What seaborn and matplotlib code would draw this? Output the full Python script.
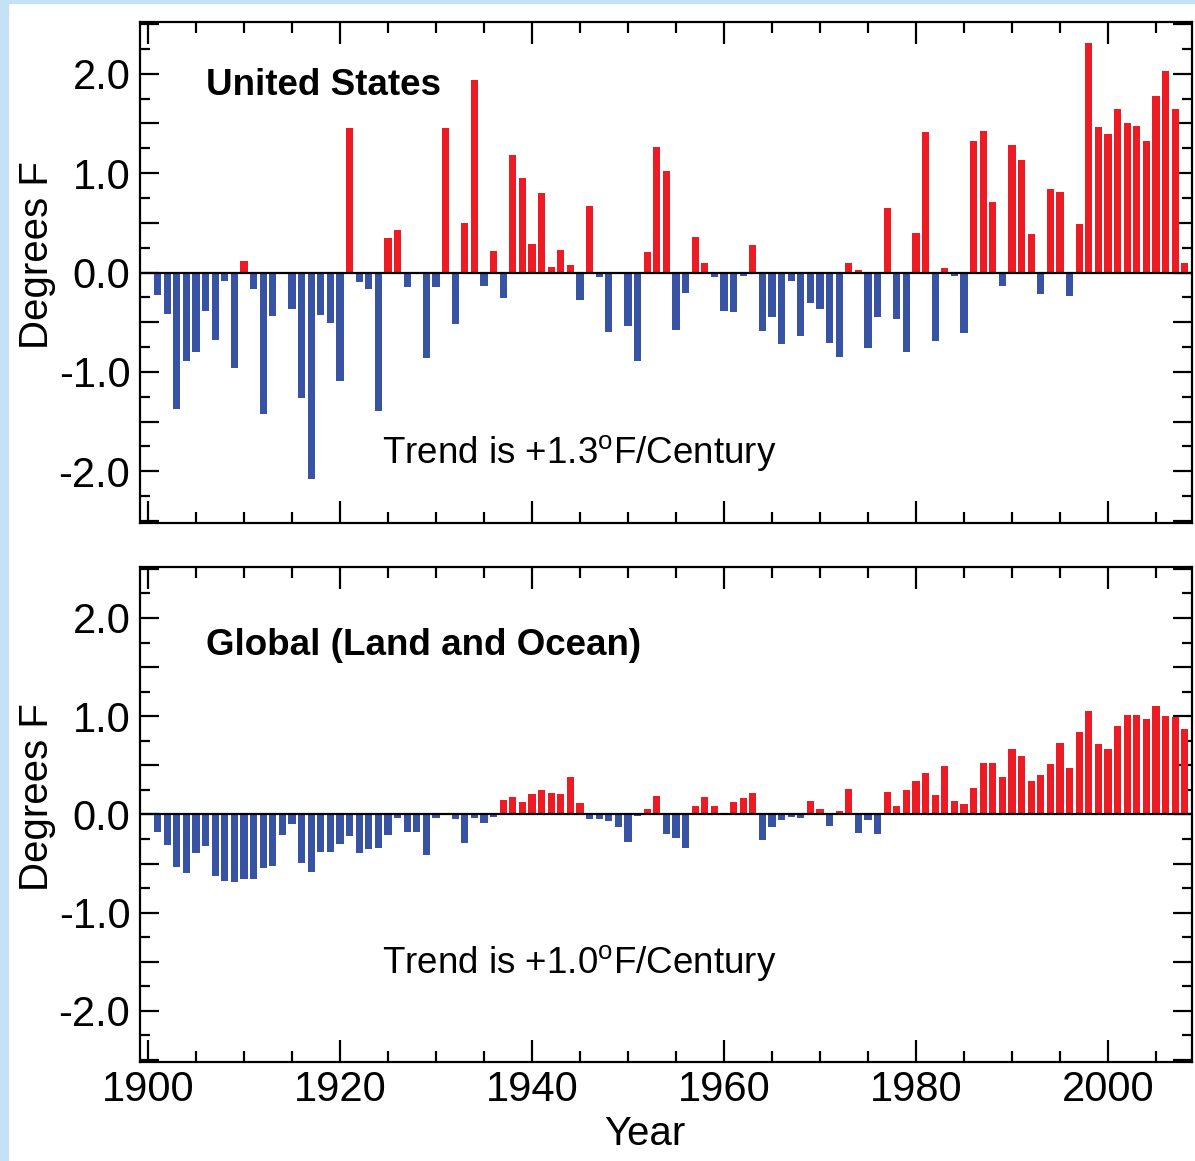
import numpy as np
import pandas as pd
import matplotlib
matplotlib.use('Agg')
import matplotlib.pyplot as plt
from matplotlib.patches import Rectangle
from matplotlib.ticker import MultipleLocator, FuncFormatter
import seaborn as sns

# Annual temperature anomalies (deg F), 1901-2008
years = list(range(1901, 2009))

us_anomaly = [
    -0.23, -0.42, -1.37, -0.89, -0.80, -0.39, -0.68, -0.09, -0.96, 0.12,   # 1901-1910
    -0.17, -1.42, -0.44, -0.01, -0.37, -1.26, -2.08, -0.43, -0.51, -1.09,  # 1911-1920
    1.45, -0.10, -0.17, -1.39, 0.35, 0.43, -0.15, 0.01, -0.86, -0.15,      # 1921-1930
    1.45, -0.52, 0.50, 1.94, -0.14, 0.22, -0.26, 1.18, 0.95, 0.29,         # 1931-1940
    0.80, 0.06, 0.23, 0.08, -0.28, 0.67, -0.04, -0.60, -0.01, -0.54,       # 1941-1950
    -0.89, 0.21, 1.26, 1.02, -0.58, -0.21, 0.36, 0.10, -0.04, -0.39,       # 1951-1960
    -0.40, -0.03, 0.28, -0.59, -0.45, -0.72, -0.09, -0.64, -0.31, -0.37,   # 1961-1970
    -0.71, -0.85, 0.10, 0.03, -0.76, -0.45, 0.65, -0.47, -0.80, 0.40,      # 1971-1980
    1.41, -0.69, 0.05, -0.03, -0.61, 1.32, 1.42, 0.71, -0.14, 1.28,        # 1981-1990
    1.13, 0.39, -0.22, 0.84, 0.81, -0.24, 0.49, 2.31, 1.46, 1.39,          # 1991-2000
    1.65, 1.50, 1.47, 1.32, 1.78, 2.03, 1.65, 0.10,                        # 2001-2008
]

global_anomaly = [
    -0.18, -0.31, -0.53, -0.60, -0.39, -0.32, -0.63, -0.68, -0.69, -0.66,  # 1901-1910
    -0.66, -0.55, -0.52, -0.21, -0.10, -0.49, -0.59, -0.38, -0.38, -0.30,  # 1911-1920
    -0.22, -0.39, -0.35, -0.34, -0.21, -0.04, -0.18, -0.18, -0.41, -0.04,  # 1921-1930
    -0.01, -0.05, -0.29, -0.04, -0.09, -0.03, 0.15, 0.18, 0.13, 0.21,      # 1931-1940
    0.25, 0.22, 0.21, 0.38, 0.12, -0.05, -0.05, -0.07, -0.13, -0.28,       # 1941-1950
    -0.02, 0.06, 0.19, -0.20, -0.24, -0.34, 0.09, 0.18, 0.09, 0.00,        # 1951-1960
    0.13, 0.17, 0.22, -0.26, -0.13, -0.06, -0.03, -0.04, 0.14, 0.06,       # 1961-1970
    -0.12, 0.03, 0.26, -0.19, -0.06, -0.20, 0.23, 0.09, 0.25, 0.34,        # 1971-1980
    0.42, 0.20, 0.49, 0.14, 0.11, 0.27, 0.52, 0.52, 0.38, 0.67,            # 1981-1990
    0.59, 0.34, 0.40, 0.51, 0.73, 0.47, 0.84, 1.05, 0.72, 0.67,            # 1991-2000
    0.90, 1.01, 1.01, 0.97, 1.10, 1.00, 0.99, 0.87,                        # 2001-2008
]

panel_titles = ['United States', 'Global (Land and Ocean)']
trend_labels = ['Trend is +1.3$^{\\mathrm{o}}$F/Century',
                'Trend is +1.0$^{\\mathrm{o}}$F/Century']

RED = '#ED1C24'
BLUE = '#3953A4'

sns.set_style('white')
plt.rcParams['font.family'] = ['Liberation Sans', 'DejaVu Sans']
plt.rcParams['mathtext.fontset'] = 'custom'
plt.rcParams['mathtext.rm'] = 'Liberation Sans'
plt.rcParams['axes.linewidth'] = 1.6
plt.rcParams['text.color'] = 'black'
plt.rcParams['axes.labelcolor'] = 'black'
plt.rcParams['xtick.color'] = 'black'
plt.rcParams['ytick.color'] = 'black'
plt.rcParams['axes.edgecolor'] = 'black'

fig = plt.figure(figsize=(11.95, 11.61), dpi=100)
# light blue slide edge on the left and top
fig.patches.append(Rectangle((0, 0), 8 / 1195, 1, transform=fig.transFigure,
                             color='#c4e2f3', zorder=-1))
fig.patches.append(Rectangle((0, 1 - 3 / 1161), 1, 3 / 1161, transform=fig.transFigure,
                             color='#c4e2f3', zorder=-1))

ax_top = fig.add_axes([0.1172, 0.5495, 0.8803, 0.4315])
ax_bot = fig.add_axes([0.1172, 0.0853, 0.8803, 0.4264])


def ylab(v, pos):
    if abs(v - round(v)) < 1e-6:
        return f'{v:.1f}'
    return ''


def draw_panel(ax, values, title, trend, title_y, trend_y):
    df = pd.DataFrame({'year': years, 'anomaly': values})
    df['sign'] = np.where(df['anomaly'] >= 0, 'warm', 'cool')
    sns.barplot(data=df, x='year', y='anomaly', hue='sign',
                palette={'warm': RED, 'cool': BLUE}, native_scale=True,
                dodge=False, width=0.75, errorbar=None, legend=False,
                saturation=1, linewidth=0, ax=ax)
    ax.axhline(0, color='black', lw=1.6, zorder=3)

    ax.set_xlim(1899.17, 2008.75)
    ax.set_ylim(-2.52, 2.52)

    ax.xaxis.set_major_locator(MultipleLocator(20))
    ax.xaxis.set_minor_locator(MultipleLocator(5))
    ax.yaxis.set_major_locator(MultipleLocator(0.5))
    ax.yaxis.set_minor_locator(MultipleLocator(0.25))
    ax.yaxis.set_major_formatter(FuncFormatter(ylab))

    ax.tick_params(axis='x', which='major', direction='in', length=16, width=1.6,
                   top=True, bottom=True, labelsize=30, pad=6)
    ax.tick_params(axis='x', which='minor', direction='in', length=8, width=1.6,
                   top=True, bottom=True)
    ax.tick_params(axis='y', which='major', direction='in', length=14, width=1.6,
                   left=True, right=True, labelsize=30, pad=7)
    ax.tick_params(axis='y', which='minor', direction='in', length=7, width=1.6,
                   left=True, right=True)
    for sp in ax.spines.values():
        sp.set_color('black')
        sp.set_linewidth(1.6)

    ax.set_ylabel('Degrees F', fontsize=29)
    ax.yaxis.set_label_coords(-0.08, 0.535)
    ax.set_xlabel('')

    ax.text(1906.0, title_y, title, fontsize=26.5, fontweight='bold',
            ha='left', va='center')
    ax.text(1924.4, trend_y, trend, fontsize=26.5, ha='left', va='center')


draw_panel(ax_top, us_anomaly, panel_titles[0], trend_labels[0], 1.88, -1.82)
draw_panel(ax_bot, global_anomaly, panel_titles[1], trend_labels[1], 1.72, -1.52)

ax_top.tick_params(axis='x', labelbottom=False)
ax_bot.set_xlabel('Year', fontsize=29, va='top')
ax_bot.xaxis.set_label_coords(0.48, -0.108)

fig.savefig('out.png', dpi=100)
